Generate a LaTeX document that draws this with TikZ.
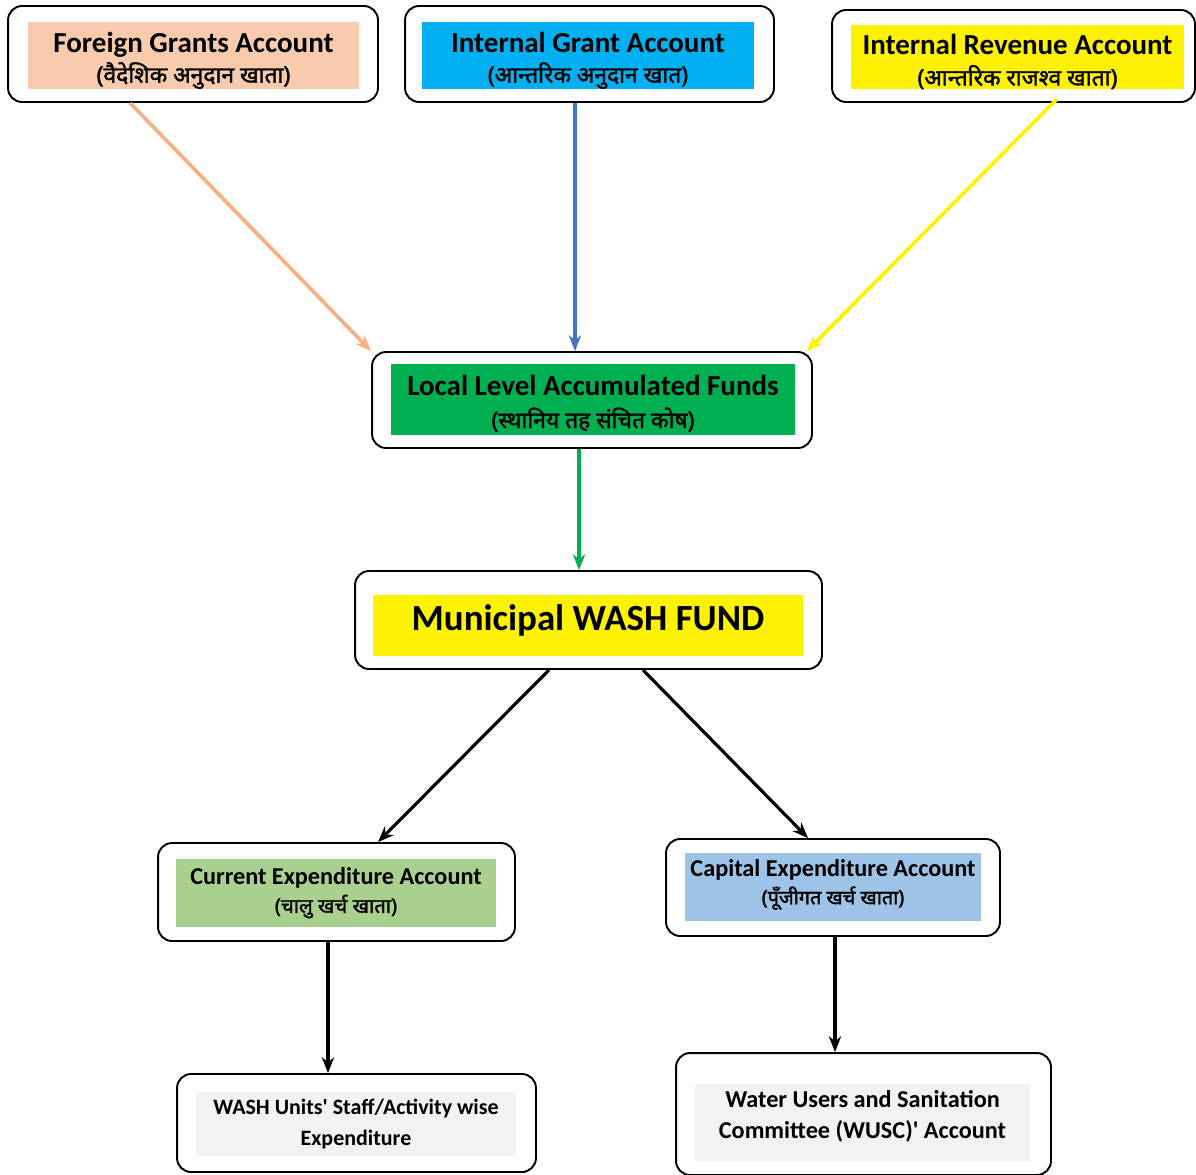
\documentclass[tikz,border=0pt]{standalone}
\usepackage{fontspec}
\setmainfont{Carlito}
\newfontfamily\devfont[Script=Devanagari, FakeBold=1.6]{Noto Sans}
\usetikzlibrary{positioning,calc,arrows.meta}

\definecolor{peach}{HTML}{F8CBAD}
\definecolor{peachline}{HTML}{F4B183}
\definecolor{skyblue}{HTML}{00B0F0}
\definecolor{grantblue}{HTML}{4472C4}
\definecolor{fundgreen}{HTML}{00B050}
\definecolor{curgreen}{HTML}{A9D08E}
\definecolor{capblue}{HTML}{9DC3E6}
\definecolor{lightgray}{HTML}{F2F2F2}

\tikzset{
  frame/.style={draw, line width=1.1pt, rounded corners=8pt, inner sep=0pt},
  panel/.style={fill=#1, inner sep=0pt, align=center, font=\bfseries},
  flow/.style={line width=1.8pt, -{Stealth[length=9pt,width=7pt]}},
  cflow/.style={flow, line width=2.1pt},
  big/.style={font=\bfseries\fontsize{16.5}{20}\selectfont},
  mid/.style={font=\bfseries\fontsize{13.8}{16}\selectfont},
  low/.style={font=\bfseries\fontsize{12.5}{17.5}\selectfont},
}
\newcommand{\dev}[2][13]{{\devfont\fontsize{#1}{#1}\selectfont #2}}

\begin{document}
\begin{tikzpicture}[x=0.02cm, y=-0.02cm]
\useasboundingbox (0,0) rectangle (1196,1174);

% sources
\node[frame, minimum width=7.4cm, minimum height=1.92cm] (fgn) at (193,54) {};
\node[panel=peach, big, minimum width=6.62cm, minimum height=1.34cm] (fgn-in) at (193.5,55.5)
  {\rule{0pt}{17pt}Foreign Grants Account\\[-2.5pt]\dev{(वैदेशिक अनुदान खाता)}};

\node[frame, minimum width=7.38cm, minimum height=1.92cm] (igr) at (589.5,54) {};
\node[panel=skyblue, big, minimum width=6.64cm, minimum height=1.34cm] (igr-in) at (588,55.5)
  {\rule{0pt}{17pt}Internal Grant Account\\[-2.5pt]\dev{(आन्तरिक अनुदान खात)}};

\node[frame, minimum width=7.26cm, minimum height=1.84cm] (irv) at (1013.5,56) {};
\node[panel=yellow, big, minimum width=6.66cm, minimum height=1.24cm] (irv-in) at (1017.5,57)
  {\rule{0pt}{17pt}Internal Revenue Account\\[-2.5pt]\dev{(आन्तरिक राजश्व खाता)}};

% pooled funds
\node[frame, minimum width=8.8cm, minimum height=1.92cm] (loc) at (592,400) {};
\node[panel=fundgreen, big, minimum width=8.08cm, minimum height=1.42cm] (loc-in) at (593,399.5)
  {\rule{0pt}{16pt}Local Level Accumulated Funds\\[-1.5pt]\dev{(स्थानिय तह संचित कोष)}};

\node[frame, minimum width=9.34cm, minimum height=1.96cm] (mun) at (588.5,620) {};
\node[panel=yellow, font=\bfseries\fontsize{21}{24}\selectfont, minimum width=8.6cm, minimum height=1.22cm] (mun-in) at (588,625.5)
  {Municipal WASH FUND\rule[-9pt]{0pt}{0pt}};

% spending accounts
\node[frame, minimum width=7.14cm, minimum height=1.96cm] (cur) at (336.5,892) {};
\node[panel=curgreen, mid, minimum width=6.4cm, minimum height=1.36cm] (cur-in) at (336,893)
  {Current Expenditure Account\\[0pt]\dev[11.5]{(चालु खर्च खाता)}};

\node[frame, minimum width=6.68cm, minimum height=1.94cm] (cap) at (833,887.5) {};
\node[panel=capblue, mid, minimum width=5.92cm, minimum height=1.36cm] (cap-in) at (833,887)
  {Capital Expenditure Account\\[0pt]\dev[11.3]{(पूँजीगत खर्च खाता)}\rule[-6pt]{0pt}{0pt}};

\node[frame, minimum width=7.18cm, minimum height=1.96cm] (wsh) at (356.5,1123) {};
\node[panel=lightgray, low, minimum width=6.4cm, minimum height=1.28cm] (wsh-in) at (356,1124)
  {WASH Units\textquotesingle{} Staff/Activity wise\\Expenditure};

\node[frame, minimum width=7.5cm, minimum height=2.44cm] (wus) at (863.5,1114) {};
\node[panel=lightgray, low, font=\bfseries\fontsize{13.8}{17.5}\selectfont, minimum width=6.7cm, minimum height=1.54cm] (wus-in) at (862.5,1122.5)
  {Water Users and Sanitation\\Committee (WUSC)\textquotesingle{} Account\\[-8pt]};

% flows
\draw[cflow, peachline] ([xshift=2.46cm]fgn.south west) -- (loc.north west);
\draw[cflow, grantblue] ([xshift=-0.29cm]igr.south) -- ([xshift=-0.29cm]igr.south |- loc.north);
\draw[cflow, yellow] ([xshift=4.52cm, yshift=0.08cm]irv.south west) -- ([xshift=-0.12cm]loc.north east);
\draw[cflow, fundgreen, line width=2.8pt] ([xshift=-0.26cm]loc.south) -- ([xshift=-0.26cm]loc.south |- mun.north);
\draw[flow] ([xshift=-0.79cm]mun.south) -- ([xshift=0.83cm]cur.north);
\draw[flow] ([xshift=1.09cm]mun.south) -- ([xshift=-0.5cm]cap.north);
\draw[flow] ([xshift=-0.17cm]cur.south) -- ([xshift=-0.17cm]cur.south |- wsh.north);
\draw[flow] ([xshift=0.04cm]cap.south) -- ([xshift=0.04cm]cap.south |- wus.north);
\end{tikzpicture}
\end{document}
